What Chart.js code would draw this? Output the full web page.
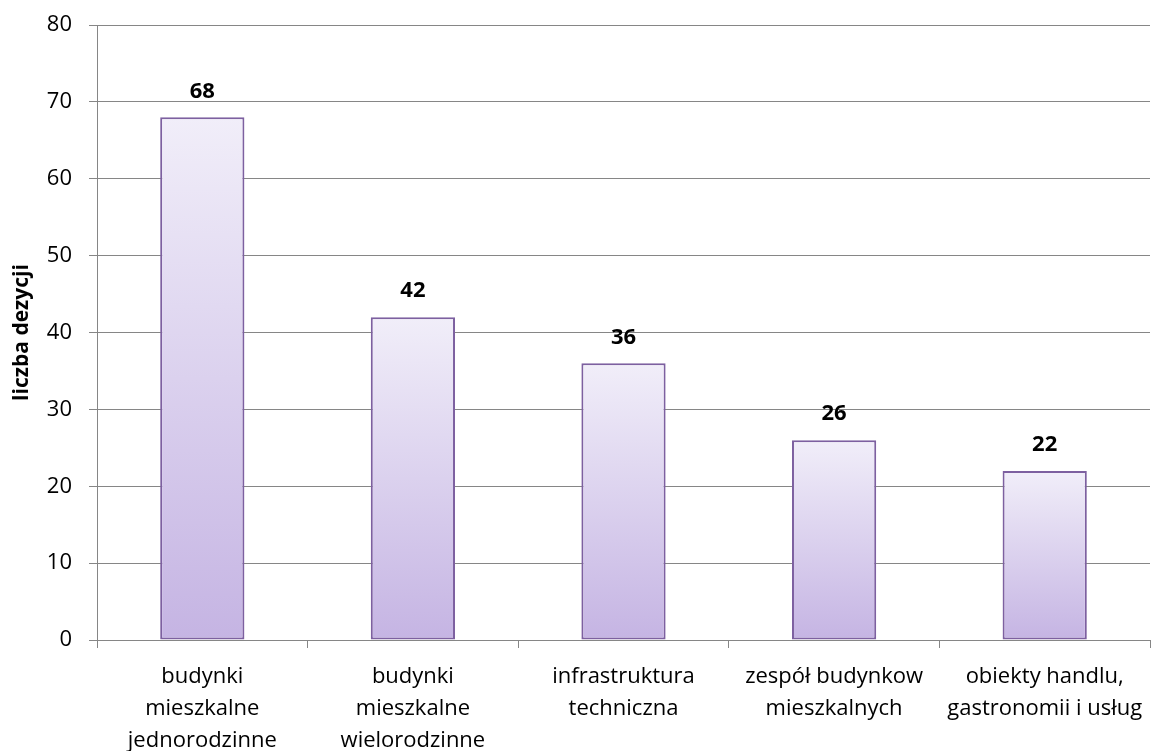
<!DOCTYPE html>
<html>
<head>
<meta charset="utf-8">
<script src="https://cdn.jsdelivr.net/npm/chart.js@4"></script>
<style>
html,body{margin:0;padding:0;background:#fff;}
#wrap{width:1153px;height:751px;position:relative;}
</style>
</head>
<body>
<div id="wrap"><canvas id="c" width="1153" height="751"></canvas></div>
<script>
const categories = [
  ["budynki", "mieszkalne", "jednorodzinne"],
  ["budynki", "mieszkalne", "wielorodzinne"],
  ["infrastruktura", "techniczna"],
  ["zespół budynkow", "mieszkalnych"],
  ["obiekty handlu,", "gastronomii i usług"]
];
const values = [68, 42, 36, 26, 22];
const yMin = 0, yMax = 80, yStep = 10;
const yTitle = "liczba dezycji";

const FONT = "'Open Sans', sans-serif";
const GRID = "#868686";

const valueLabels = {
  id: "valueLabels",
  afterDatasetsDraw(chart) {
    const ctx = chart.ctx;
    const meta = chart.getDatasetMeta(0);
    ctx.save();
    ctx.font = "bold 22px " + FONT;
    ctx.fillStyle = "#000";
    ctx.textAlign = "center";
    ctx.textBaseline = "middle";
    meta.data.forEach((bar, i) => {
      ctx.fillText(String(values[i]), bar.x, bar.y - 26);
    });
    ctx.restore();
  }
};

function barGradient(context) {
  const chart = context.chart;
  const y = chart.scales && chart.scales.y;
  if (!chart.chartArea || !y) return "#dcd2ef";
  const v = values[context.dataIndex];
  const top = y.getPixelForValue(v);
  const bottom = y.getPixelForValue(0);
  const g = chart.ctx.createLinearGradient(0, top, 0, bottom);
  g.addColorStop(0, "#f1eef9");
  g.addColorStop(1, "#c5b4e3");
  return g;
}

new Chart(document.getElementById("c"), {
  type: "bar",
  data: {
    labels: categories,
    datasets: [{
      data: values,
      backgroundColor: barGradient,
      borderColor: "#7d60a0",
      borderWidth: 2,
      borderSkipped: false,
      barPercentage: 0.4,
      categoryPercentage: 1
    }]
  },
  options: {
    responsive: false,
    animation: false,
    devicePixelRatio: 1,
    layout: { padding: { top: 25, right: 3, left: 0, bottom: 0 } },
    plugins: { legend: { display: false }, tooltip: { enabled: false } },
    scales: {
      x: {
        grid: { drawOnChartArea: false, drawTicks: true, tickLength: 8, color: GRID, offset: true },
        border: { display: true, color: GRID, width: 1 },
        ticks: { color: "#000", font: { family: FONT, size: 22, lineHeight: 1.45 }, maxRotation: 0, autoSkip: false, padding: 13 },
        afterFit(s) { s.height = 111; s.paddingLeft = 0; s.paddingRight = 0; }
      },
      y: {
        min: yMin, max: yMax,
        grid: { color: GRID, lineWidth: 1, drawTicks: true, tickLength: 8 },
        border: { display: true, color: GRID, width: 1 },
        ticks: { stepSize: yStep, color: "#000", font: { family: FONT, size: 22 }, padding: 17 },
        title: { display: true, text: yTitle, color: "#000", font: { family: FONT, size: 21, weight: "bold" }, padding: { top: 9, bottom: 0 } },
        afterFit(s) { s.width = 97; s.paddingTop = 0; s.paddingBottom = 0; }
      }
    }
  },
  plugins: [valueLabels]
});
</script>
</body>
</html>
